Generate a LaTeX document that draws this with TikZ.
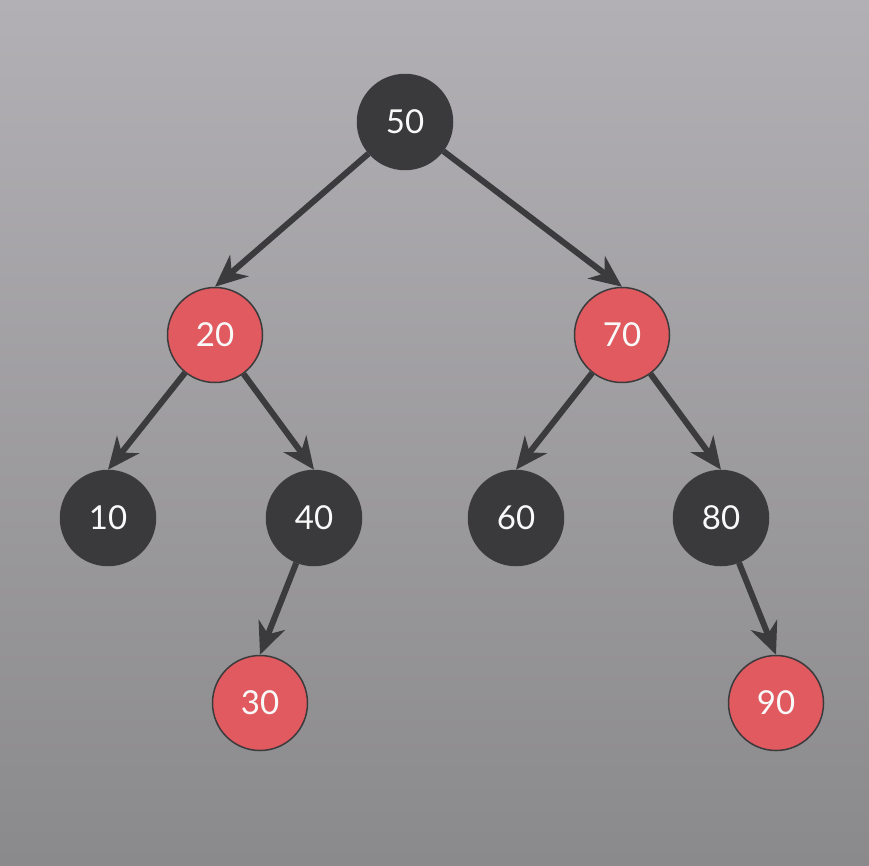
\documentclass[tikz,border=0pt]{standalone}
\usepackage{fontspec}
\setmainfont{Lato}
\usepackage{tikz}
\usetikzlibrary{arrows.meta,positioning}
\definecolor{bgtop}{HTML}{B2B0B4}
\definecolor{bgbot}{HTML}{8A898B}
\definecolor{blk}{HTML}{3A393B}
\definecolor{rd}{HTML}{E05A5F}
\definecolor{edge}{HTML}{3B3A3C}
\tikzset{
    rbnode/.style={circle,minimum size=95pt,inner sep=0pt,draw=edge,
                   line width=1.5pt,text=white!95!gray,
                   font=\fontsize{33}{33}\selectfont},
    blacknode/.style={rbnode,fill=blk},
    rednode/.style={rbnode,fill=rd},
    link/.style={draw=edge,line width=6pt,
                 -{Stealth[length=32pt,width=28pt,inset=10pt]}}
}

\begin{document}
\begin{tikzpicture}[x=1pt,y=-1pt]
    % background
    \shade[top color=bgtop,bottom color=bgbot] (0,0) rectangle (869,865);
    \useasboundingbox (0,0) rectangle (869,865);

    % root and children
    \node[blacknode] (n50) at (405,122) {50};
    \node[rednode]   (n20) at (215,335) {20};
    \node[rednode]   (n70) at (622,335) {70};
    \node[blacknode] (n10) at (108,518) {10};
    \node[blacknode] (n40) at (314,518) {40};
    \node[blacknode] (n60) at (516,518) {60};
    \node[blacknode] (n80) at (721,518) {80};
    \node[rednode]   (n30) at (260,703) {30};
    \node[rednode]   (n90) at (776,703) {90};

    % edges end on the top of each child
    \draw[link] (n50) -- (n20.north);
    \draw[link] (n50) -- (n70.north);
    \draw[link] (n20) -- (n10.north);
    \draw[link] (n20) -- (n40.north);
    \draw[link] (n70) -- (n60.north);
    \draw[link] (n70) -- (n80.north);
    \draw[link] (n40) -- (n30.north);
    \draw[link] (n80) -- (n90.north);
\end{tikzpicture}
\end{document}
